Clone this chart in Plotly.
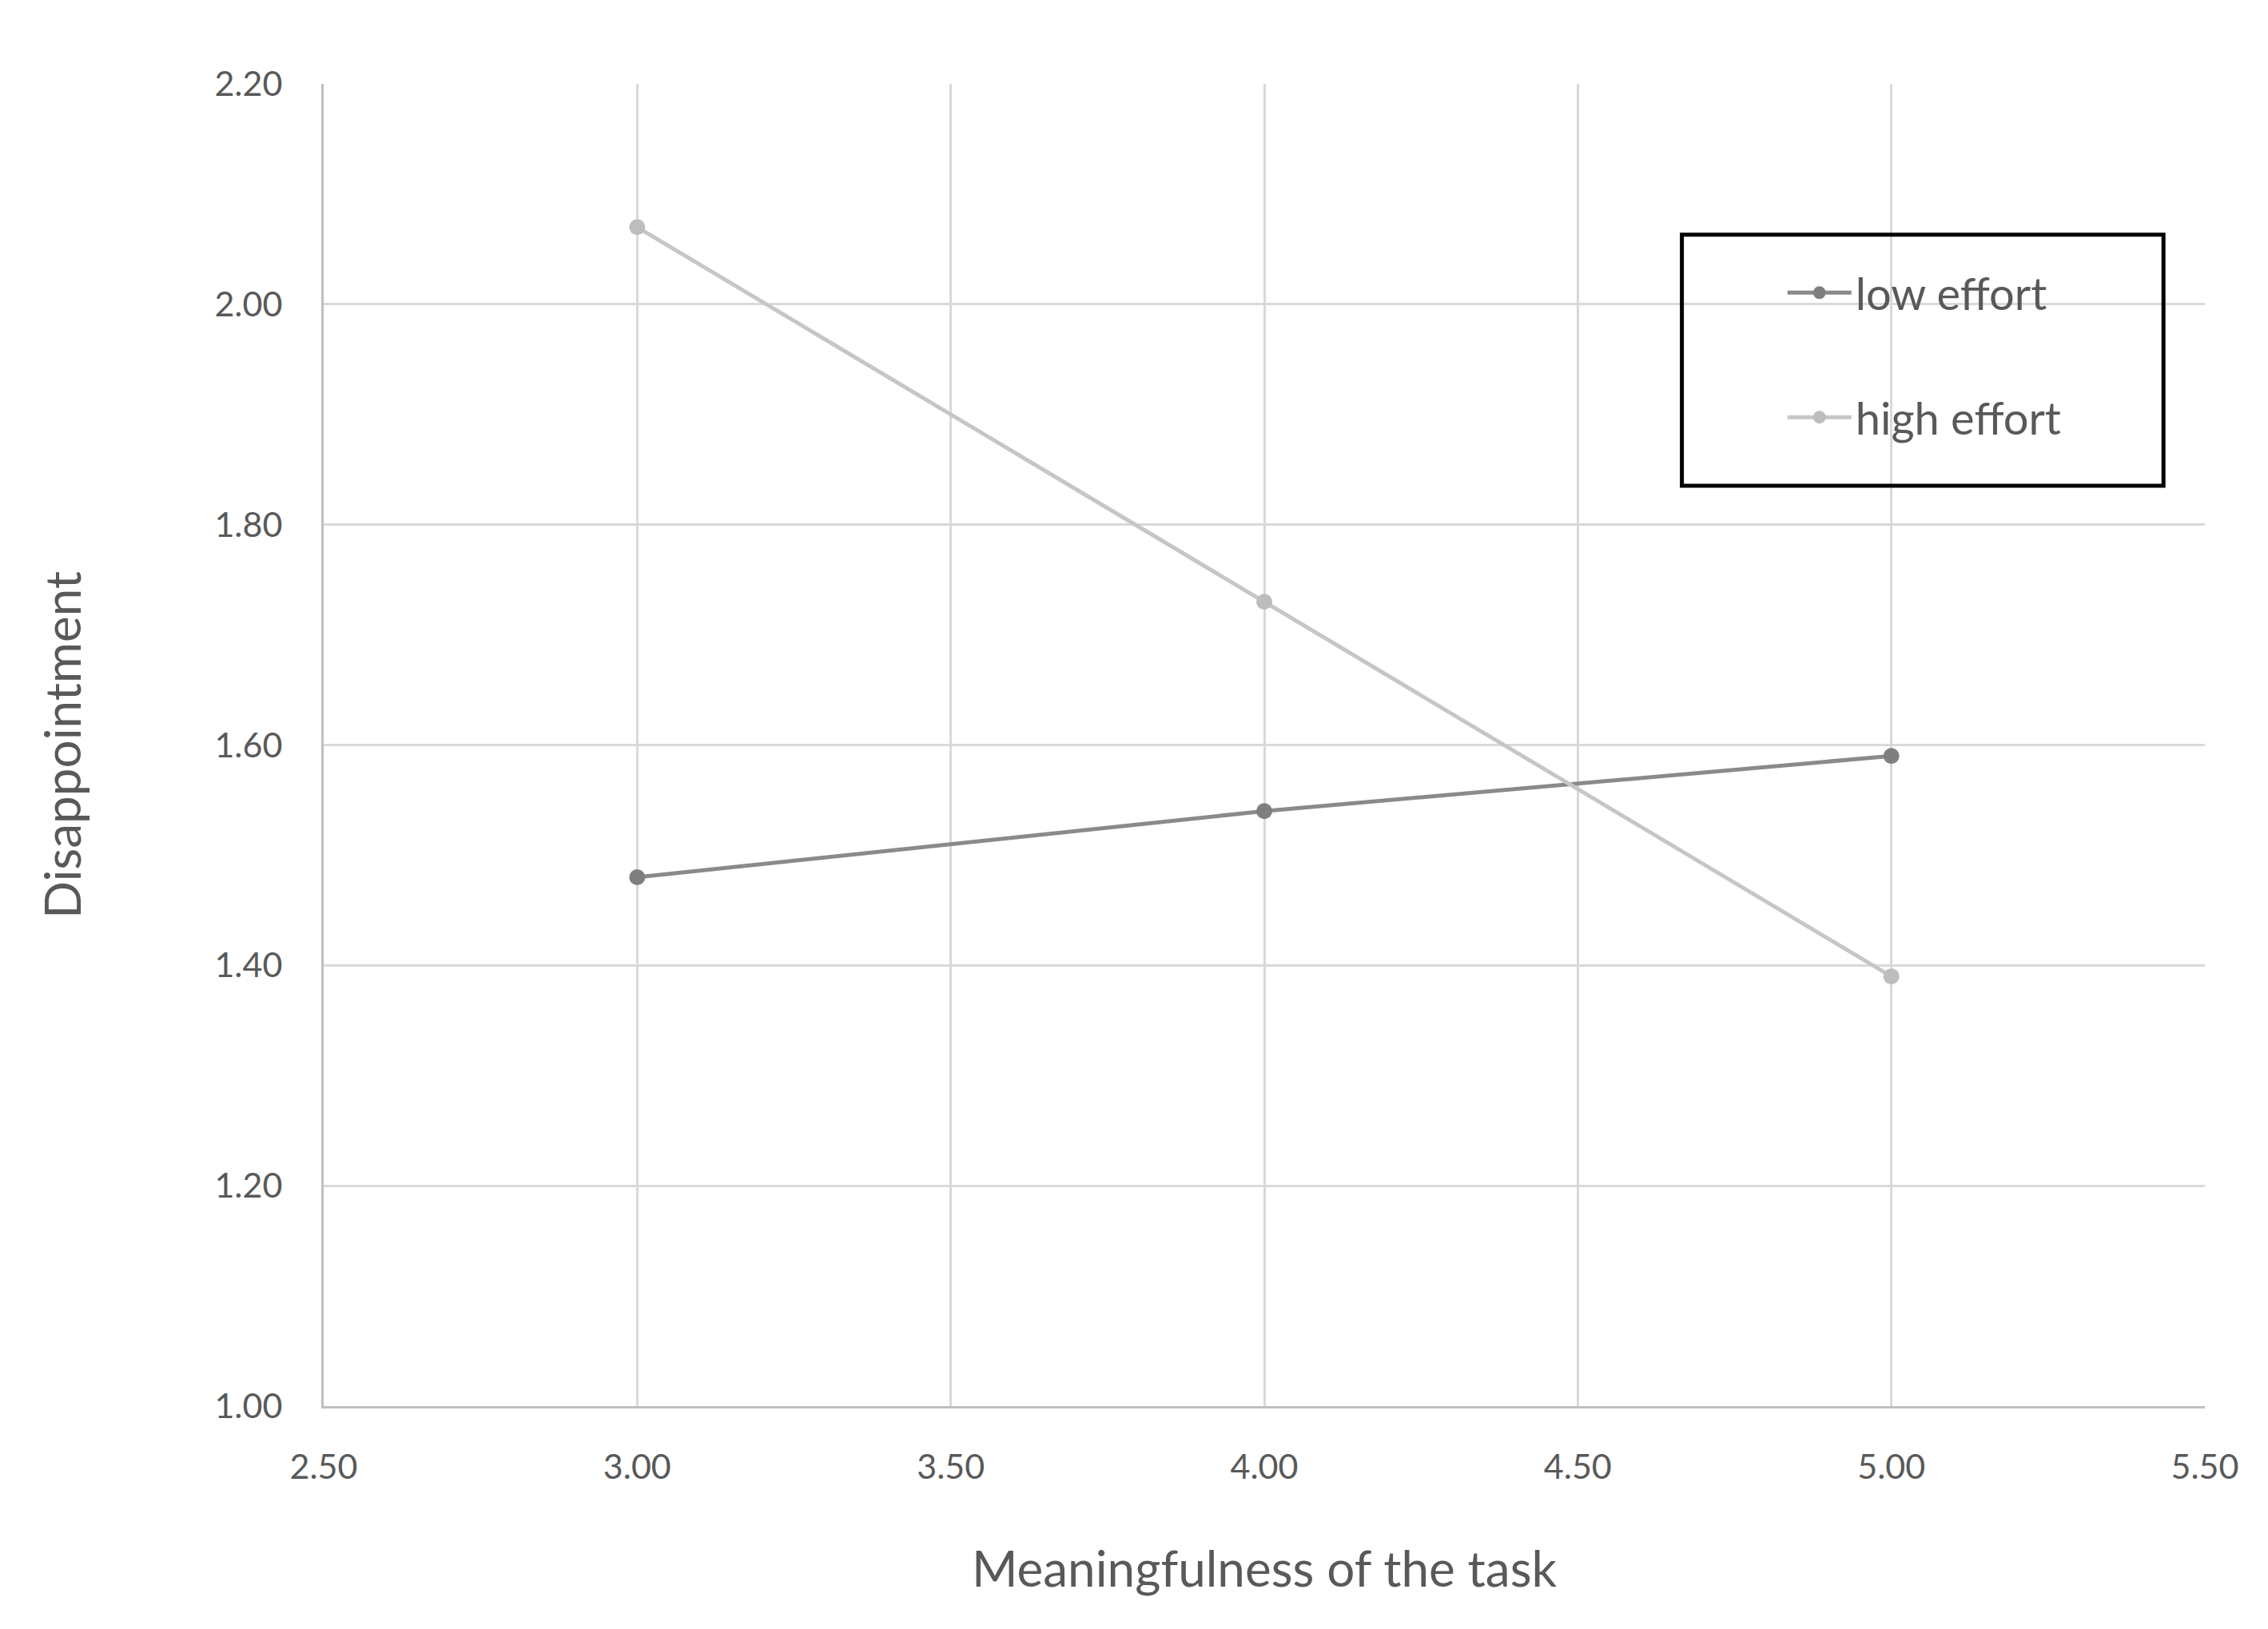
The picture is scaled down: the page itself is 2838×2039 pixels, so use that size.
import plotly.graph_objects as go

meaningfulness = [3.0, 4.0, 5.0]
low_effort = [1.48, 1.54, 1.59]
high_effort = [2.07, 1.73, 1.39]
series_names = ["low effort", "high effort"]

W, H = 2838, 2039
L, R, T, B = 397, 87, 97, 287

FONT = "Lato, Carlito, 'Open Sans', sans-serif"
TXT = "#595959"

fig = go.Figure()
fig.add_trace(go.Scatter(
    x=meaningfulness, y=low_effort, name=series_names[0], mode="lines+markers",
    line=dict(color="#8a8a8a", width=5),
    marker=dict(color="#7f7f7f", size=20, symbol="circle"),
    legendgroup="a"))
fig.add_trace(go.Scatter(
    x=meaningfulness, y=high_effort, name=series_names[1], mode="lines+markers",
    line=dict(color="#c6c6c6", width=5),
    marker=dict(color="#bdbdbd", size=20, symbol="circle"),
    legendgroup="b"))

axis_common = dict(
    showgrid=True, gridcolor="#d9d9d9", gridwidth=3,
    zeroline=False, showline=True, linecolor="#bfbfbf", linewidth=3,
    ticks="", tickfont=dict(family=FONT, size=43, color=TXT),
    tickformat=".2f",
)

fig.update_layout(
    width=W, height=H,
    margin=dict(l=L, r=R, t=T, b=B),
    paper_bgcolor="white", plot_bgcolor="white",
    font=dict(family=FONT, color=TXT),
    xaxis=dict(range=[2.5, 5.5], dtick=0.5, tick0=2.5, ticklabelstandoff=36,
               title=dict(text="Meaningfulness of the task",
                          font=dict(family=FONT, size=62, color=TXT), standoff=84),
               **axis_common),
    yaxis=dict(range=[1.0, 2.2], dtick=0.2, tick0=1.0, ticklabelstandoff=40,
               title=dict(text="Disappointment",
                          font=dict(family=FONT, size=62, color=TXT), standoff=147),
               **axis_common),
    showlegend=True,
    legend=dict(x=0.776, y=0.868, xanchor="left", yanchor="top",
                bgcolor="rgba(0,0,0,0)", borderwidth=0,
                font=dict(family=FONT, size=56, color=TXT),
                itemwidth=80, tracegroupgap=80),
)

fig.add_shape(type="rect", xref="paper", yref="paper",
              x0=0.722, x1=0.978, y0=0.696, y1=0.886,
              line=dict(color="black", width=5), fillcolor="rgba(0,0,0,0)")

fig.write_html("out.html")
